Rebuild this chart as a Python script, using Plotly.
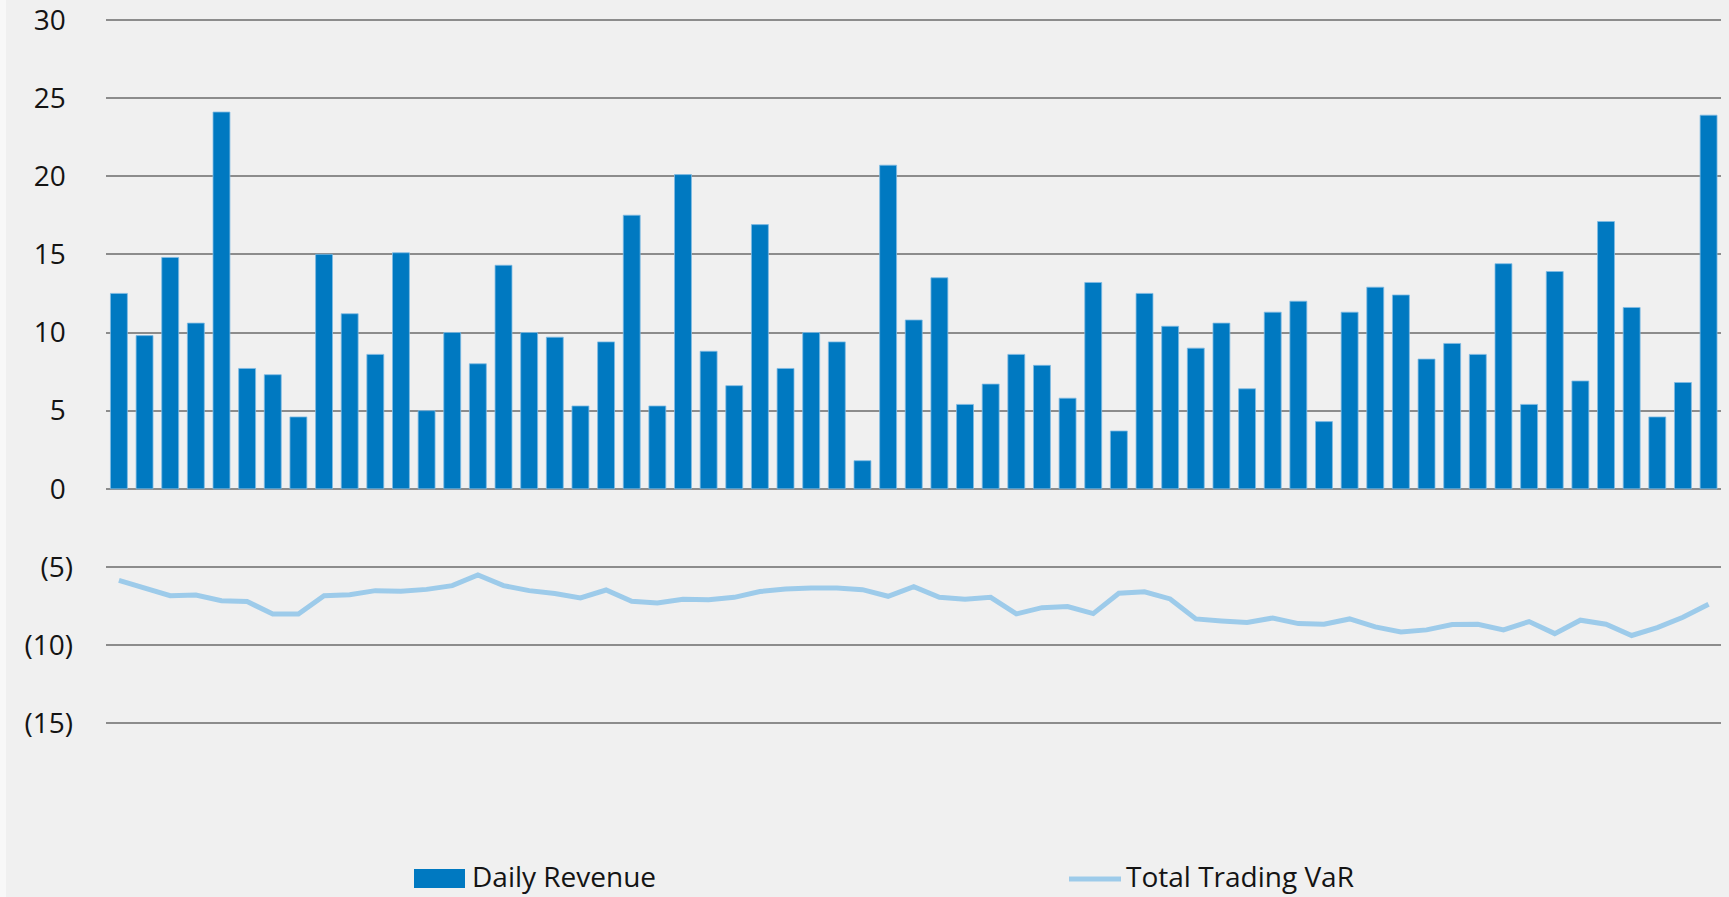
import plotly.graph_objects as go

# Trading days in the period (x categories)
trading_day = list(range(1, 64))

# Daily trading revenue, millions
daily_revenue = [
    12.5, 9.8, 14.8, 10.6, 24.1, 7.7, 7.3, 4.6, 15.0, 11.2,
    8.6, 15.1, 5.0, 10.0, 8.0, 14.3, 10.0, 9.7, 5.3, 9.4,
    17.5, 5.3, 20.1, 8.8, 6.6, 16.9, 7.7, 10.0, 9.4, 1.8,
    20.7, 10.8, 13.5, 5.4, 6.7, 8.6, 7.9, 5.8, 13.2, 3.7,
    12.5, 10.4, 9.0, 10.6, 6.4, 11.3, 12.0, 4.3, 11.3, 12.9,
    12.4, 8.3, 9.3, 8.6, 14.4, 5.4, 13.9, 6.9, 17.1, 11.6,
    4.6, 6.8, 23.9,
]

# Total trading VaR, millions (shown as negative)
total_trading_var = [
    -5.85, -6.30, -6.83, -6.79, -7.15, -7.21, -8.00, -8.00, -6.83, -6.77,
    -6.51, -6.55, -6.43, -6.19, -5.51, -6.19, -6.51, -6.70, -6.98, -6.47,
    -7.19, -7.30, -7.06, -7.09, -6.94, -6.57, -6.40, -6.34, -6.34, -6.45,
    -6.87, -6.26, -6.94, -7.06, -6.94, -8.00, -7.60, -7.53, -7.98, -6.68,
    -6.58, -7.04, -8.32, -8.45, -8.55, -8.26, -8.62, -8.66, -8.32, -8.83,
    -9.15, -9.02, -8.68, -8.66, -9.02, -8.49, -9.26, -8.40, -8.66, -9.38,
    -8.87, -8.21, -7.38,
]

# Y axis ticks in accounting style
y_tick_values = [-15, -10, -5, 0, 5, 10, 15, 20, 25, 30]
y_tick_labels = ["(15)", "(10)", "(5)", "0\u00a0", "5\u00a0", "10\u00a0",
                 "15\u00a0", "20\u00a0", "25\u00a0", "30\u00a0"]

series_names = ["Daily Revenue", "Total Trading VaR"]
unit_note = "(Millions of Canadian dollars)"

W, H = 1729, 897
BAR_BLUE = "#0079c1"
VAR_BLUE = "#9dcbea"
BG = "#f0f0f0"
TEXT = "#141414"
FONT = "Open Sans"

fig = go.Figure()

fig.add_trace(go.Bar(
    x=trading_day, y=daily_revenue, name=series_names[0],
    marker=dict(color=BAR_BLUE, line=dict(color="#80bbe3", width=0.8)),
    showlegend=False,
))

fig.add_trace(go.Scatter(
    x=trading_day, y=total_trading_var, name=series_names[1],
    mode="lines", line=dict(color=VAR_BLUE, width=5),
    showlegend=False,
))


def px_x(p):
    return p / W


def px_y(p):
    return 1 - p / H


shapes = [
    # light strip on the left edge
    dict(type="rect", xref="paper", yref="paper", x0=0, x1=px_x(6), y0=0, y1=1,
         fillcolor="#f8f8f8", line=dict(width=0), layer="below"),
    # legend key: bar swatch
    dict(type="rect", xref="paper", yref="paper",
         x0=px_x(414), x1=px_x(465), y0=px_y(888), y1=px_y(869),
         fillcolor=BAR_BLUE, line=dict(width=0)),
    # legend key: line swatch
    dict(type="line", xref="paper", yref="paper",
         x0=px_x(1069), x1=px_x(1121), y0=px_y(879), y1=px_y(879),
         line=dict(color=VAR_BLUE, width=5)),
]

annotations = [
    dict(text=series_names[0], xref="paper", yref="paper",
         x=px_x(470), y=px_y(876), xanchor="left", yanchor="middle",
         showarrow=False, font=dict(family=FONT, size=28, color=TEXT)),
    dict(text=series_names[1], xref="paper", yref="paper",
         x=px_x(1124), y=px_y(876), xanchor="left", yanchor="middle",
         showarrow=False, font=dict(family=FONT, size=28, color=TEXT)),
    # unit note sitting just above the top edge
    dict(text=unit_note, xref="paper", yref="paper",
         x=px_x(12), y=1, xanchor="left", yanchor="bottom", yshift=-7,
         showarrow=False, font=dict(family=FONT, size=40, color="#1a86d0")),
]

fig.update_layout(
    width=W, height=H,
    margin=dict(l=0, r=0, t=0, b=0),
    paper_bgcolor=BG, plot_bgcolor=BG,
    bargap=0.34,
    showlegend=False,
    shapes=shapes,
    annotations=annotations,
    xaxis=dict(
        domain=[106.1 / W, 1721.4 / W],
        range=[0.5, 63.5],
        showgrid=False, zeroline=False, showticklabels=False,
        showline=False, ticks="", automargin=False,
    ),
    yaxis=dict(
        domain=[px_y(726.5), px_y(16.67)],
        range=[-15.2, 30.2],
        tickmode="array", tickvals=y_tick_values, ticktext=y_tick_labels,
        showgrid=True, gridcolor="#8c8c8c", gridwidth=2,
        zeroline=False, showline=False, ticks="",
        automargin=False,
        ticklabelstandoff=32,
        ticklabeloverflow="allow",
        tickfont=dict(family=FONT, size=28, color=TEXT),
    ),
)

fig.write_html("out.html")
